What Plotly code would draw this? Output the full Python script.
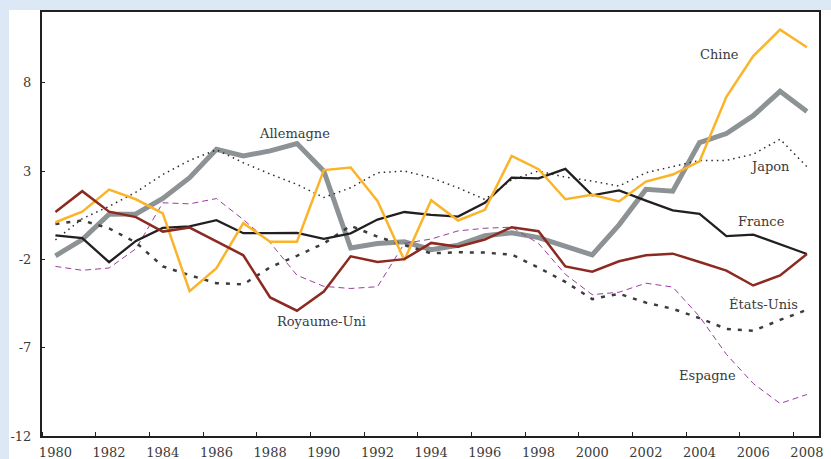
import plotly.graph_objects as go

years = list(range(1980, 2009))

chine = [0.1, 0.7, 1.95, 1.4, 0.6, -3.8, -2.5, 0.05, -1.0, -1.0, 3.05, 3.2, 1.3, -2.05, 1.35,
         0.2, 0.8, 3.85, 3.1, 1.4, 1.65, 1.28, 2.4, 2.8, 3.55, 7.2, 9.5, 11.0, 10.0]
allemagne = [-1.8, -0.88, 0.55, 0.57, 1.45, 2.62, 4.23, 3.85, 4.14, 4.55, 3.0, -1.36, -1.1, -1.0, -1.45,
             -1.2, -0.66, -0.5, -0.77, -1.26, -1.75, -0.05, 1.96, 1.86, 4.61, 5.12, 6.13, 7.51, 6.37]
japon = [-0.9, 0.3, 1.0, 1.8, 2.8, 3.6, 4.2, 3.47, 2.83, 2.24, 1.5, 2.05, 2.9, 3.0, 2.62,
         2.05, 1.39, 2.5, 3.0, 2.65, 2.43, 2.15, 2.9, 3.24, 3.6, 3.6, 3.95, 4.8, 3.24]
france = [-0.64, -0.8, -2.16, -0.96, -0.22, -0.13, 0.22, -0.52, -0.52, -0.5, -0.84, -0.53, 0.25, 0.68, 0.52,
          0.42, 1.2, 2.62, 2.58, 3.12, 1.62, 1.9, 1.32, 0.77, 0.57, -0.69, -0.6, -1.13, -1.7]
royaume_uni = [0.68, 1.86, 0.7, 0.39, -0.43, -0.2, -0.98, -1.77, -4.16, -4.91, -3.82, -1.83, -2.15, -1.99, -1.07,
               -1.29, -0.88, -0.18, -0.41, -2.4, -2.7, -2.11, -1.77, -1.68, -2.15, -2.64, -3.48, -2.91, -1.7]
etats_unis = [0.0, 0.2, -0.25, -1.05, -2.4, -2.9, -3.35, -3.42, -2.45, -1.8, -1.1, -0.1, -0.72, -1.17, -1.66,
              -1.6, -1.62, -1.73, -2.47, -3.28, -4.25, -3.95, -4.45, -4.8, -5.33, -5.94, -6.05, -5.43, -4.86]
espagne = [-2.4, -2.62, -2.49, -1.4, 1.2, 1.14, 1.44, 0.25, -1.05, -2.9, -3.53, -3.65, -3.55, -1.1, -0.85,
           -0.39, -0.24, -0.18, -1.1, -2.85, -4.0, -3.86, -3.35, -3.57, -5.24, -7.38, -9.03, -10.16, -9.65]

x_tick_vals = list(range(1980, 2009, 2))
x_tick_text = [str(v) for v in x_tick_vals]
y_tick_vals = [8, 3, -2, -7, -12]
y_tick_text = ["8", "3", "-2", "-7", "-12"]

labels = ["Chine", "Allemagne", "Japon", "France", "Royaume-Uni", "États-Unis", "Espagne"]
label_x = [2004.73, 1988.9, 2006.61, 2006.3, 1989.9, 2006.38, 2004.31]
label_y = [9.59, 5.1, 3.28, 0.12, -5.52, -4.54, -8.55]

FONT = "DejaVu Serif"
TXT = "#3a3a3a"

fig = go.Figure()

series = [
    ("Allemagne", allemagne, dict(color="#8d9295", width=5)),
    ("Espagne", espagne, dict(color="#9a3d9e", width=1, dash="6px,4px")),
    ("États-Unis", etats_unis, dict(color="#3c3c3c", width=2.5, dash="4px,7px")),
    ("Japon", japon, dict(color="#2a2a2a", width=1.5, dash="1.5px,4px")),
    ("France", france, dict(color="#231f20", width=2.3)),
    ("Chine", chine, dict(color="#fbb42a", width=2.5)),
    ("Royaume-Uni", royaume_uni, dict(color="#8b2a20", width=2.5)),
]
for name, vals, line in series:
    fig.add_trace(go.Scatter(x=years, y=vals, mode="lines", name=name, line=line,
                             showlegend=False, hoverinfo="skip"))

for t, lx, ly in zip(labels, label_x, label_y):
    fig.add_annotation(x=lx, y=ly, text=t, showarrow=False,
                       font=dict(family=FONT, size=13, color=TXT),
                       xanchor="center", yanchor="middle")

fig.add_shape(type="rect", xref="paper", yref="paper",
              x0=-0.0425, x1=1.05, y0=-0.1, y1=1.0047,
              fillcolor="white", line=dict(width=0), layer="below")

fig.update_layout(
    width=831, height=459,
    margin=dict(l=42, r=12, t=12, b=23),
    paper_bgcolor="#dde8f6",
    plot_bgcolor="white",
    showlegend=False,
    font=dict(family=FONT, size=13, color=TXT),
)
fig.update_xaxes(
    range=[1979.5, 2008.45], automargin=False,
    tickvals=x_tick_vals, ticktext=x_tick_text,
    ticks="", showgrid=False, zeroline=False,
    showline=True, mirror=True, linecolor="#231f20", linewidth=2,
    tickfont=dict(family=FONT, size=13, color=TXT),
    ticklabelstandoff=3,
    minor=dict(ticks="inside", tick0=1981.5, dtick=2, ticklen=4,
               tickcolor="#231f20", tickwidth=1, showgrid=False),
)
fig.update_yaxes(
    range=[-12, 12], automargin=False,
    tickvals=y_tick_vals, ticktext=y_tick_text,
    ticks="inside", ticklen=3, tickcolor="#231f20",
    showgrid=False, zeroline=False,
    showline=True, mirror=True, linecolor="#231f20", linewidth=2,
    tickfont=dict(family=FONT, size=13, color=TXT),
    ticklabelstandoff=6,
)

fig.write_html("out.html", config={"displayModeBar": False},
               post_script="document.body.style.margin='0';document.body.style.overflow='hidden';")
